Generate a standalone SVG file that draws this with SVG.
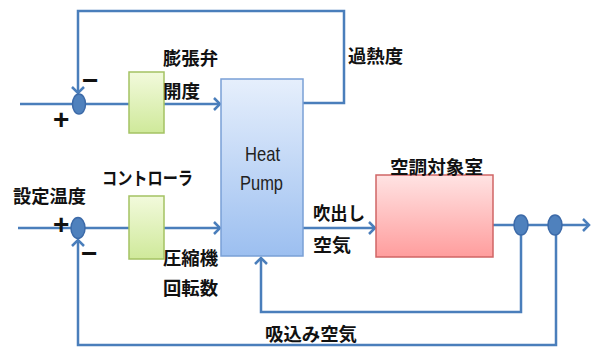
<svg xmlns="http://www.w3.org/2000/svg" width="592" height="347" viewBox="0 0 592 347">
<style>
.ln{fill:none;stroke:#4a7ebb;stroke-width:2.5}
.nd{fill:#4f81bd;stroke:#3c6aa8;stroke-width:1.5}
.lb{font-family:"Noto Sans CJK JP","Liberation Sans",sans-serif;font-weight:bold;font-size:18px;fill:#111}
.sg{font-family:"Liberation Sans",sans-serif;font-weight:bold;font-size:28px;fill:#111}
.hp{font-family:"Liberation Sans",sans-serif;font-size:21px;fill:#222}
</style>
<defs>
<marker id="ar" markerUnits="userSpaceOnUse" markerWidth="12" markerHeight="14" refX="8" refY="7" orient="auto">
<path d="M2,1 L8,7 L2,13" fill="none" stroke="#4a7ebb" stroke-width="2.5"/>
</marker>
<linearGradient id="gG" x1="0" y1="0" x2="0" y2="1"><stop offset="0" stop-color="#f2fadc"/><stop offset="1" stop-color="#cfe99a"/></linearGradient>
<linearGradient id="gB" x1="0" y1="0" x2="0" y2="1"><stop offset="0" stop-color="#e6effc"/><stop offset="1" stop-color="#9cbff0"/></linearGradient>
<linearGradient id="gR" x1="0" y1="0" x2="0" y2="1"><stop offset="0" stop-color="#ffe3e3"/><stop offset="1" stop-color="#ff9d9d"/></linearGradient>
</defs>
<g id="connectors">
<path class="ln" d="M303,103 H344 V11 H78 V93" marker-end="url(#ar)"/>
<path class="ln" d="M20,104 H129"/>
<path class="ln" d="M164,104 H220" marker-end="url(#ar)"/>
<path class="ln" d="M18,228 H129"/>
<path class="ln" d="M164,228 H220" marker-end="url(#ar)"/>
<path class="ln" d="M303,228 H375" marker-end="url(#ar)"/>
<path class="ln" d="M493,225 H589" marker-end="url(#ar)"/>
<path class="ln" d="M521,225 V312 H261 V258" marker-end="url(#ar)"/>
<path class="ln" d="M556,225 V345 H78 V240" marker-end="url(#ar)"/>
</g>
<g id="sum1"><ellipse class="nd" cx="79" cy="104" rx="6.5" ry="10"/>
<text class="sg" x="53" y="129">+</text><text class="sg" x="82" y="90">−</text></g>
<g id="sum2"><ellipse class="nd" cx="78" cy="228" rx="7" ry="10.5"/>
<text class="sg" x="53" y="234">+</text><text class="sg" x="81" y="263">−</text></g>
<g id="ctrl1"><rect x="129" y="72" width="35" height="61" fill="url(#gG)" stroke="#a4c263" stroke-width="1.5"/></g>
<g id="ctrl2"><rect x="129" y="196" width="35" height="63" fill="url(#gG)" stroke="#a4c263" stroke-width="1.5"/></g>
<g id="heatpump"><rect x="221" y="79" width="82" height="177" fill="url(#gB)" stroke="#7aa0d6" stroke-width="1.5"/>
<text class="hp" x="245" y="161" textLength="35" lengthAdjust="spacingAndGlyphs">Heat</text><text class="hp" x="240" y="190" textLength="43" lengthAdjust="spacingAndGlyphs">Pump</text></g>
<g id="room"><rect x="376" y="175" width="117" height="82" fill="url(#gR)" stroke="#d06565" stroke-width="1.5"/></g>
<g id="node3"><ellipse class="nd" cx="521" cy="225" rx="7" ry="10"/></g>
<g id="node4"><ellipse class="nd" cx="555" cy="225" rx="7" ry="10"/></g>
<g id="labels">
<text class="lb" x="163" y="65" textLength="55" lengthAdjust="spacingAndGlyphs">膨張弁</text>
<text class="lb" x="163" y="98" textLength="37" lengthAdjust="spacingAndGlyphs">開度</text>
<text class="lb" x="348" y="63" textLength="55" lengthAdjust="spacingAndGlyphs">過熱度</text>
<text class="lb" x="390" y="174" textLength="93" lengthAdjust="spacingAndGlyphs">空調対象室</text>
<text class="lb" x="13" y="203" textLength="73" lengthAdjust="spacingAndGlyphs">設定温度</text>
<text class="lb" x="102" y="185" textLength="91" lengthAdjust="spacingAndGlyphs">コントローラ</text>
<text class="lb" x="163" y="265" textLength="55" lengthAdjust="spacingAndGlyphs">圧縮機</text>
<text class="lb" x="163" y="295" textLength="55" lengthAdjust="spacingAndGlyphs">回転数</text>
<text class="lb" x="313" y="220" textLength="52" lengthAdjust="spacingAndGlyphs">吹出し</text>
<text class="lb" x="313" y="252" textLength="38" lengthAdjust="spacingAndGlyphs">空気</text>
<text class="lb" x="265" y="341" textLength="92" lengthAdjust="spacingAndGlyphs">吸込み空気</text>
</g>
</svg>
